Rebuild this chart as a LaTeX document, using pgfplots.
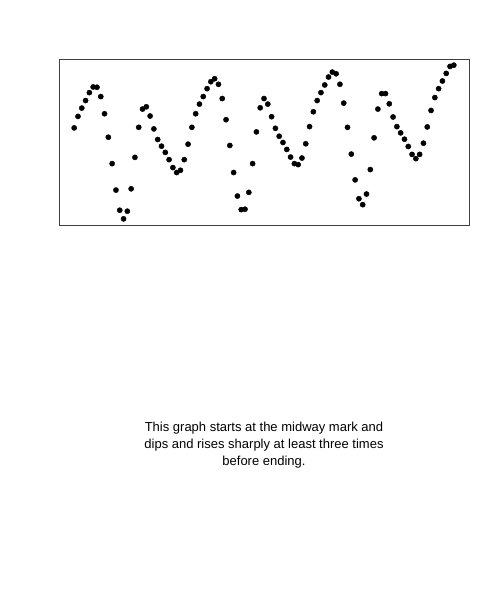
\documentclass[border=0pt]{standalone}
\usepackage{pgfplots}
\pgfplotsset{compat=1.18}
\usepackage{fontspec}
\setmainfont{Liberation Sans}
\begin{document}
\begin{tikzpicture}[x=1pt,y=1pt]
\useasboundingbox (0,0) rectangle (500,600);
\begin{axis}[
  at={(59pt,375pt)}, anchor=south west,
  scale only axis, width=410pt, height=166pt,
  xmin=-3, xmax=105, ymin=23.8, ymax=191.2,
  axis line style={black!75, line width=0.7pt},
  ticks=none,
]
\addplot[only marks, mark=*, mark size=2.6pt, color=black] coordinates {
(1,121.7)(2,133.3)(3,141.7)(4,149.3)(5,157.3)(6,163)(7,162.7)(8,153.3)(9,136)(10,112.3)
(11,85.7)(12,59)(13,38.7)(14,30)(15,37.7)(16,60.3)(17,92)(18,122.3)(19,140.7)(20,143)
(21,133.7)(22,120.7)(23,110)(24,103.3)(25,97)(26,89.7)(27,81.7)(28,76.7)(29,79)(30,89.7)
(31,105.3)(32,122.3)(33,136)(34,145.7)(35,153.3)(36,161.3)(37,168.3)(38,171.3)(39,165.7)(40,151.3)
(41,130)(42,104)(43,76.7)(44,53)(45,39.3)(46,39.7)(47,56.7)(48,85.7)(49,117.7)(50,142)
(51,151.3)(52,145.7)(53,133)(54,121.3)(55,113.3)(56,107)(57,100)(58,92.3)(59,85.7)(60,84.7)
(61,91.3)(62,105.7)(63,123)(64,138)(65,149.3)(66,157.3)(67,165)(68,173)(69,178)(70,176.3)
(71,165.7)(72,146.7)(73,122.3)(74,95.3)(75,69.3)(76,50.3)(77,44.3)(78,55)(79,79.7)(80,111.7)
(81,140.7)(82,156.3)(83,156.3)(84,146)(85,132.7)(86,123)(87,116.7)(88,110.3)(89,103)(90,95)
(91,90.7)(92,95)(93,106.3)(94,122.7)(95,139.3)(96,152.3)(97,161.3)(98,169)(99,176.7)(100,183.7)
(101,185)
};
\end{axis}
\node[align=center, font=\fontsize{13}{17}\selectfont, anchor=center] at (264,155) {This graph starts at the midway mark and\\dips and rises sharply at least three times\\before ending.};
\end{tikzpicture}
\end{document}
